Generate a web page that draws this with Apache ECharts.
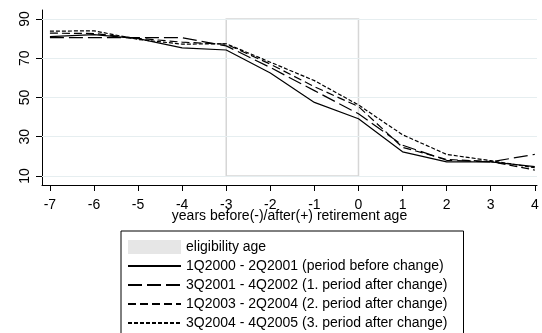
<!DOCTYPE html>
<html>
<head>
<meta charset="utf-8">
<script src="https://cdn.jsdelivr.net/npm/echarts@6/dist/echarts.min.js"></script>
<style>html,body{margin:0;padding:0;background:#fff}#c{width:542px;height:333px}</style>
</head>
<body>
<div id="c"></div>
<script>
const years = [-7, -6, -5, -4, -3, -2, -1, 0, 1, 2, 3, 4];
const xTicks = [-7, -6, -5, -4, -3, -2, -1, 0, 1, 2, 3, 4];
const yTicks = [10, 30, 50, 70, 90];
const eligibility = [-3, 0];
const names = [
  'eligibility age',
  '1Q2000 - 2Q2001 (period before change)',
  '3Q2001 - 4Q2002 (1. period after change)',
  '1Q2003 - 2Q2004 (2. period after change)',
  '3Q2004 - 4Q2005 (3. period after change)'
];
const s1 = [81, 82, 80, 75.3, 74.2, 62.5, 47.5, 39.2, 22.3, 17.2, 17.2, 14.8];
const s2 = [80.5, 80.5, 80.5, 80.5, 76.3, 65.3, 53.5, 41.7, 25.7, 18.0, 17.2, 21.0];
const s3 = [82.8, 82.6, 80.2, 78.2, 77.2, 67.0, 55.5, 45.4, 24.6, 18.4, 17.4, 13.0];
const s4 = [83.8, 84.0, 79.6, 77.2, 77.4, 68.0, 58.6, 46.2, 31.0, 21.0, 17.8, 14.2];

const font = 'Liberation Sans, Arial, sans-serif';
const chart = echarts.init(document.getElementById('c'));
function pts(arr){ return years.map((x,i)=>[x, arr[i]]); }
const dashes = ['solid', [14, 5], [8, 4], [4, 2]];
const lineSeries = [s1, s2, s3, s4].map((arr, i) => ({
  name: names[i+1], type: 'line', data: pts(arr), symbol: 'none',
  lineStyle: {color: '#000', width: 1.2, type: dashes[i]},
  itemStyle: {color: 'rgba(0,0,0,0)', borderWidth: 0}, z: 5, animation: false
}));
chart.setOption({
  animation: false,
  grid: {left: 42, right: 5, top: 10, bottom: 148},
  xAxis: {
    type: 'value', min: -7.18, max: 4.05,
    axisLine: {lineStyle: {color: '#000', width: 1}},
    axisTick: {customValues: xTicks, length: 6, lineStyle: {color: '#000'}},
    axisLabel: {customValues: xTicks, color: '#000', fontSize: 14, fontFamily: font, margin: 13},
    splitLine: {show: false},
    name: 'years before(-)/after(+) retirement age', nameLocation: 'middle', nameGap: 24,
    nameMoveOverlap: false,
    nameTextStyle: {color: '#000', fontSize: 14, fontFamily: font}
  },
  yAxis: {
    type: 'value', min: 5.4, max: 94.6,
    axisLine: {show: true, onZero: false, lineStyle: {color: '#000', width: 1}},
    axisTick: {show: true, customValues: yTicks, length: 6, lineStyle: {color: '#000'}},
    axisLabel: {customValues: yTicks, color: '#000', fontSize: 14, fontFamily: font, rotate: 90, margin: 10},
    splitLine: {show: false}
  },
  legend: {
    orient: 'vertical', left: 121, top: 231, height: 160,
    padding: [9, 16, 20, 6], itemGap: 5, itemWidth: 53, itemHeight: 14,
    borderColor: '#000', borderWidth: 1, backgroundColor: '#fff',
    textStyle: {color: '#000', fontSize: 14, fontFamily: font},
    data: [
      {name: names[0], icon: 'rect', itemStyle: {color: '#e6e6e6'}},
      {name: names[1], itemStyle: {opacity: 0}},
      {name: names[2], itemStyle: {opacity: 0}},
      {name: names[3], itemStyle: {opacity: 0}},
      {name: names[4], itemStyle: {opacity: 0}}
    ]
  },
  series: [
    {
      name: names[0], type: 'line', data: [], symbol: 'none',
      itemStyle: {color: '#e6e6e6'}, lineStyle: {color: '#e6e6e6'},
      markArea: {
        silent: true,
        itemStyle: {color: 'rgba(255,255,255,0)', borderColor: '#d6d6d6', borderWidth: 1.5},
        data: [[{coord: [eligibility[0], yTicks[0]]}, {coord: [eligibility[1], yTicks[yTicks.length-1]]}]]
      },
      markLine: {
        silent: true, symbol: 'none', label: {show: false},
        lineStyle: {color: '#e6eef0', width: 1, type: 'solid'},
        data: yTicks.map(v => ({yAxis: v}))
      },
      z: 1
    }
  ].concat(lineSeries)
});
</script>
</body>
</html>
